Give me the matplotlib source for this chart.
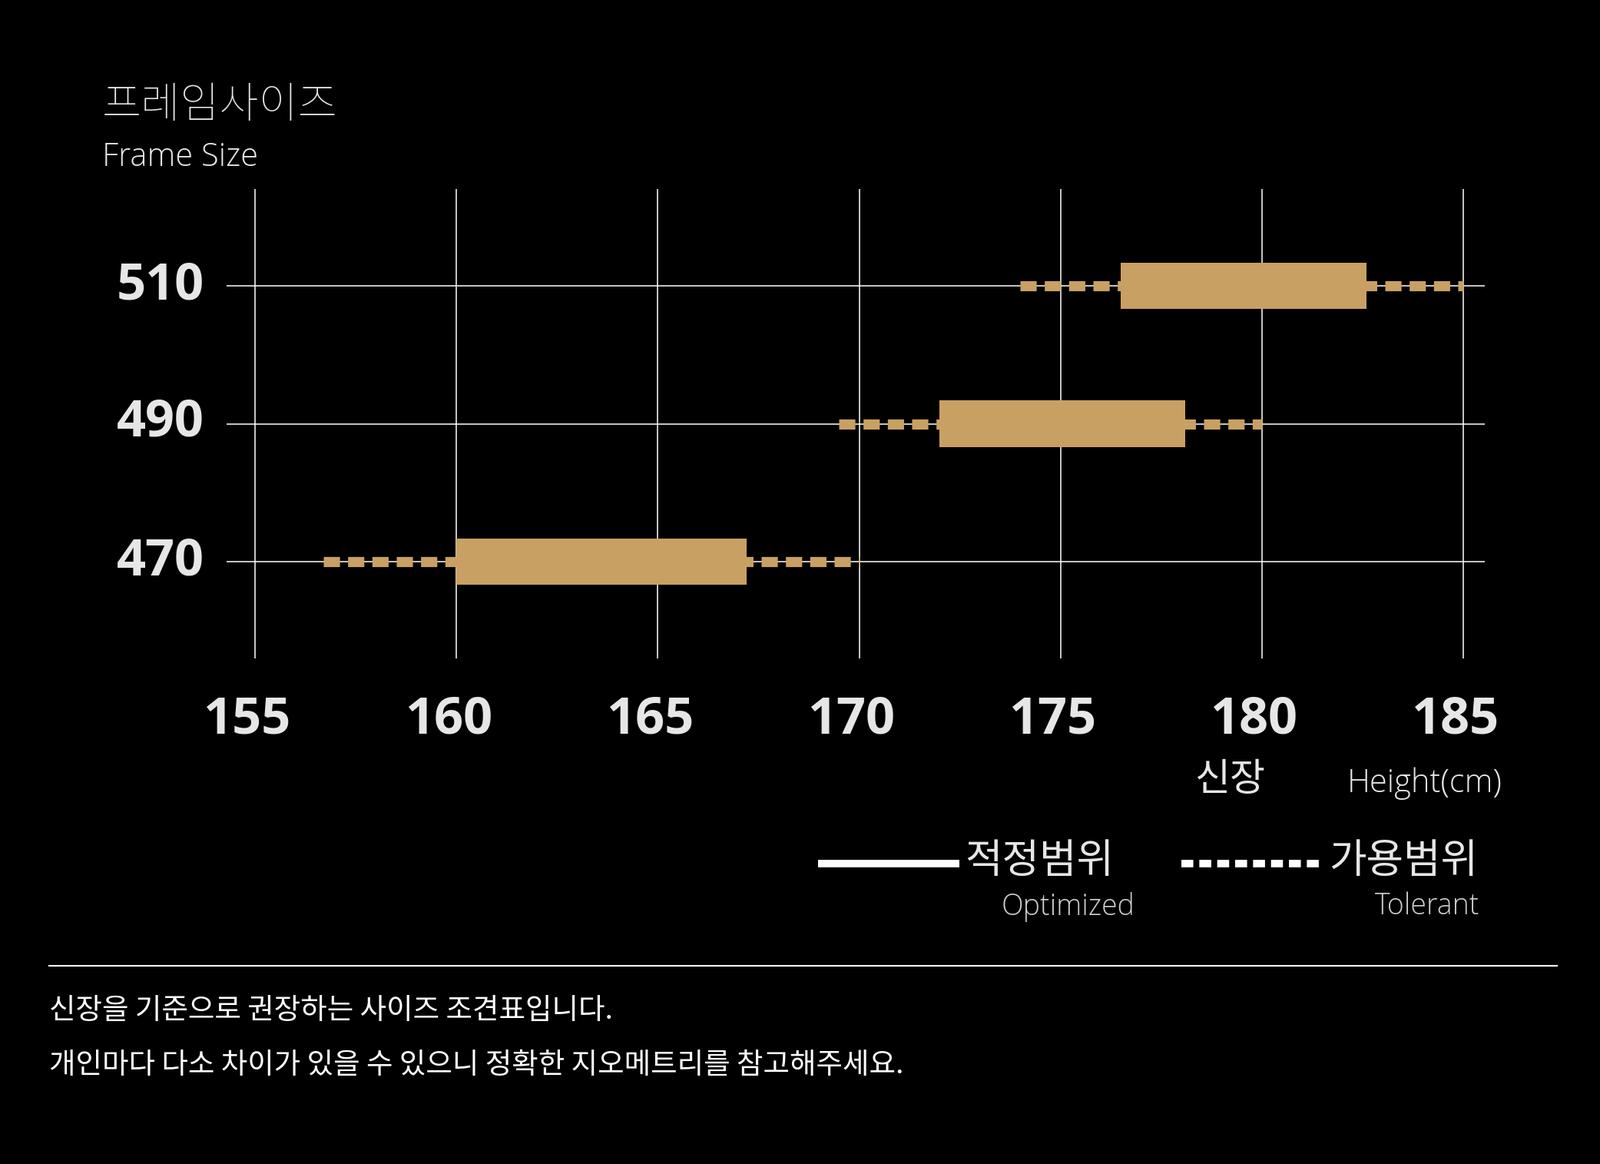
import matplotlib
matplotlib.use("Agg")
import matplotlib.pyplot as plt
from matplotlib.lines import Line2D

sizes = [470, 490, 510]
opt_lo = [160.0, 172.0, 176.5]
opt_hi = [167.2, 178.1, 182.6]
tol_lo = [156.7, 169.5, 174.0]
tol_hi = [170.0, 180.0, 185.0]
x_ticks = [155, 160, 165, 170, 175, 180, 185]

GOLD = "#C9A063"
KR = ["Noto Sans CJK KR", "Noto Sans CJK JP", "Noto Sans CJK SC", "DejaVu Sans"]
NUM = "Open Sans"

W, H = 1568, 1140  # layout grid in reference units


def fx(x):
    return x / W


def fy(y):
    return 1 - y / H


fig = plt.figure(figsize=(20.83, 15.15), dpi=100, facecolor="black")
ax = fig.add_axes([fx(222), fy(645), (1455 - 222) / W, (645 - 185) / H])
ax.set_facecolor("black")
ax.set_xlim(154.29, 185.53)
ax.set_ylim(456, 524)
for s in ax.spines.values():
    s.set_visible(False)
ax.set_xticks([])
ax.set_yticks([])

for x in x_ticks:
    ax.axvline(x, color="white", lw=1.1, zorder=1)
for y in sizes:
    ax.axhline(y, color="white", lw=1.1, zorder=1)

for y, a, b, c, d in zip(sizes, tol_lo, tol_hi, opt_lo, opt_hi):
    ax.plot([a, b], [y, y], color=GOLD, lw=9.5, dashes=(1.6, 0.8), solid_capstyle="butt",
            dash_capstyle="butt", zorder=2)
    ax.barh(y, d - c, left=c, height=6.7, color=GOLD, zorder=3)

for x in x_ticks:
    fig.text(fx(250 + (x - 155) * 39.47 - 8), fy(705), str(x), color="#e6e6e6", fontsize=48,
             fontweight="bold", family=NUM, ha="center", va="center")
for y, py in zip(sizes, [550, 414, 280]):
    fig.text(fx(200), fy(py), str(y), color="#e6e6e6", fontsize=48, fontweight="bold",
             family=NUM, ha="right", va="center")

fig.text(fx(100), fy(103), "프레임사이즈", color="#e6e6e6", fontsize=40, family=KR,
         fontweight="light", ha="left", va="center")
fig.text(fx(100), fy(154), "Frame Size", color="#e6e6e6", fontsize=30, family=NUM,
         fontweight="light", ha="left", va="center")

fig.text(fx(1240), fy(764), "신장", color="#e6e6e6", fontsize=36, family=KR,
         ha="right", va="center")
fig.text(fx(1472), fy(767), "Height(cm)", color="#e6e6e6", fontsize=30, family=NUM,
         fontweight="light", ha="right", va="center")

# legend
fig.add_artist(Line2D([fx(802), fx(940)], [fy(846), fy(846)], color="white", lw=7,
                      solid_capstyle="butt"))
fig.add_artist(Line2D([fx(1158), fx(1298)], [fy(846), fy(846)], color="white", lw=7,
                      dashes=(1.6, 0.8), dash_capstyle="butt"))
fig.text(fx(946), fy(843), "적정범위", color="#e6e6e6", fontsize=38, family=KR,
         ha="left", va="center")
fig.text(fx(1112), fy(888), "Optimized", color="#cccccc", fontsize=27, family=NUM,
         fontweight="light", ha="right", va="center")
fig.text(fx(1302), fy(843), "가용범위", color="#e6e6e6", fontsize=38, family=KR,
         ha="left", va="center")
fig.text(fx(1450), fy(888), "Tolerant", color="#cccccc", fontsize=27, family=NUM,
         fontweight="light", ha="right", va="center")

fig.add_artist(Line2D([fx(48), fx(1526)], [fy(946), fy(946)], color="white", lw=1.5))
fig.text(fx(48), fy(990), "신장을 기준으로 권장하는 사이즈 조견표입니다.", color="white",
         fontsize=27, family=KR, ha="left", va="center")
fig.text(fx(48), fy(1043), "개인마다 다소 차이가 있을 수 있으니 정확한 지오메트리를 참고해주세요.",
         color="white", fontsize=27, family=KR, ha="left", va="center")

fig.savefig("out.png", dpi=100, facecolor="black")
